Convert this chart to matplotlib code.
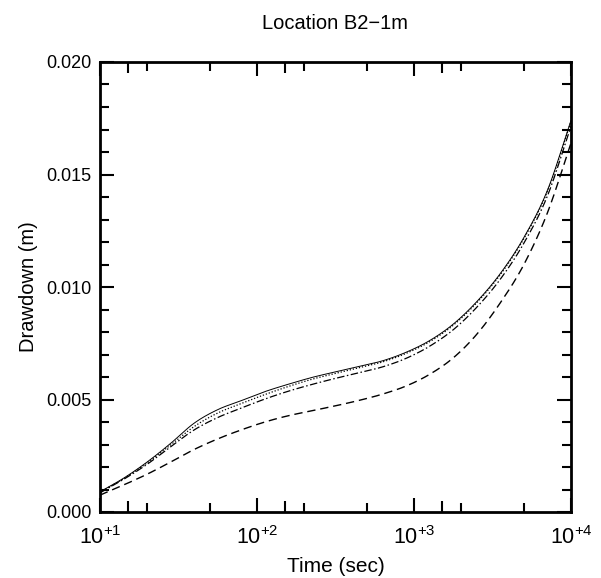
import matplotlib
matplotlib.use("Agg")
import matplotlib.pyplot as plt
import numpy as np
from matplotlib.ticker import FixedLocator, FixedFormatter, NullFormatter

plt.rcParams['font.family'] = ['Liberation Sans', 'DejaVu Sans']
plt.rcParams['mathtext.fontset'] = 'custom'
plt.rcParams['mathtext.rm'] = 'Liberation Sans'

log_time = [1.0, 1.15, 1.3, 1.45, 1.6, 1.75, 1.9, 2.05, 2.2, 2.35, 2.5, 2.65,
            2.8, 2.95, 3.1, 3.25, 3.4, 3.55, 3.7, 3.85, 4.0]
solid = [0.00090, 0.00150, 0.00222, 0.00305, 0.00395, 0.00455, 0.00495, 0.00535,
         0.00568, 0.00598, 0.00623, 0.00647, 0.00672, 0.00710, 0.00762, 0.00835,
         0.00935, 0.01060, 0.01220, 0.01430, 0.01740]
dotted = [0.00088, 0.00148, 0.00218, 0.00298, 0.00380, 0.00440, 0.00482, 0.00522,
          0.00558, 0.00590, 0.00616, 0.00641, 0.00667, 0.00705, 0.00757, 0.00830,
          0.00930, 0.01055, 0.01215, 0.01425, 0.01735]
dashdot = [0.00085, 0.00145, 0.00212, 0.00290, 0.00365, 0.00420, 0.00462, 0.00502,
           0.00537, 0.00567, 0.00594, 0.00619, 0.00645, 0.00683, 0.00737, 0.00810,
           0.00910, 0.01035, 0.01195, 0.01405, 0.01715]
dashed = [0.00075, 0.00120, 0.00168, 0.00222, 0.00278, 0.00325, 0.00365, 0.00400,
          0.00428, 0.00450, 0.00472, 0.00496, 0.00524, 0.00560, 0.00612, 0.00685,
          0.00790, 0.00930, 0.01100, 0.01330, 0.01640]

x_ticks = [10, 100, 1000, 10000]
x_ticklabels = [r'$\mathregular{10^{+1}}$', r'$\mathregular{10^{+2}}$',
                r'$\mathregular{10^{+3}}$', r'$\mathregular{10^{+4}}$']
y_ticks = [0.000, 0.005, 0.010, 0.015, 0.020]
y_ticklabels = ['0.000', '0.005', '0.010', '0.015', '0.020']

fig = plt.figure(figsize=(6.01, 5.78), dpi=100)
ax = fig.add_axes([100/601, 1-512/578, 471/601, 450/578])

lt = np.array(log_time)
fine = np.linspace(lt[0], lt[-1], 500)

def smooth(yv):
    # Catmull-Rom spline through the read points, in log-time
    ys = np.array(yv)
    out = np.empty_like(fine)
    for k, f in enumerate(fine):
        i = np.searchsorted(lt, f) - 1
        i = min(max(i, 0), len(lt) - 2)
        t = (f - lt[i]) / (lt[i+1] - lt[i])
        p1, p2 = ys[i], ys[i+1]
        p0 = ys[i-1] if i > 0 else 2*p1 - p2
        p3 = ys[i+2] if i+2 < len(ys) else 2*p2 - p1
        out[k] = 0.5*((2*p1) + (-p0+p2)*t + (2*p0-5*p1+4*p2-p3)*t**2
                      + (-p0+3*p1-3*p2+p3)*t**3)
    return out

tf = 10**fine
ax.plot(tf, smooth(solid), color='black', lw=0.7, ls='-')
ax.plot(tf, smooth(dotted), color='black', lw=0.9, ls=(0, (1, 1.5)))
ax.plot(tf, smooth(dashdot), color='black', lw=0.9, ls=(0, (6, 2, 1.2, 2)))
ax.plot(tf, smooth(dashed), color='black', lw=1.0, ls=(0, (6, 3.5)))

ax.set_xscale('log')
ax.set_xlim(10, 10000)
ax.set_ylim(0, 0.020)

ax.xaxis.set_major_locator(FixedLocator(x_ticks))
ax.xaxis.set_major_formatter(FixedFormatter(x_ticklabels))
ax.xaxis.set_minor_locator(FixedLocator([20, 50, 200, 500, 2000, 5000]))
ax.xaxis.set_minor_formatter(NullFormatter())
ax.yaxis.set_major_locator(FixedLocator(y_ticks))
ax.yaxis.set_major_formatter(FixedFormatter(y_ticklabels))
ax.yaxis.set_minor_locator(FixedLocator(np.arange(0.001, 0.020, 0.001)))

ax.tick_params(which='both', direction='in', top=True, right=True, colors='black')
ax.tick_params(which='major', length=10, width=1.5)
ax.tick_params(which='minor', length=6.5, width=1.5)
ax.tick_params(axis='y', which='major', labelsize=13, pad=6)
ax.tick_params(axis='x', which='major', labelsize=15.5, pad=10)

# short ticks at 1.5 x decade
for v in [15, 150, 1500]:
    ax.plot([v, v], [0, 0.025], transform=ax.get_xaxis_transform(), color='black',
            lw=1.5, clip_on=False, solid_capstyle='butt')
    ax.plot([v, v], [1, 0.975], transform=ax.get_xaxis_transform(), color='black',
            lw=1.5, clip_on=False, solid_capstyle='butt')

for s in ax.spines.values():
    s.set_linewidth(2)

ax.set_xlabel('Time (sec)', fontsize=15, labelpad=6)
ax.set_ylabel('Drawdown (m)', fontsize=14.5, labelpad=6)
ax.set_title('Location B2\u22121m', fontsize=14.5, pad=24)

fig.savefig('out.png', dpi=100)
